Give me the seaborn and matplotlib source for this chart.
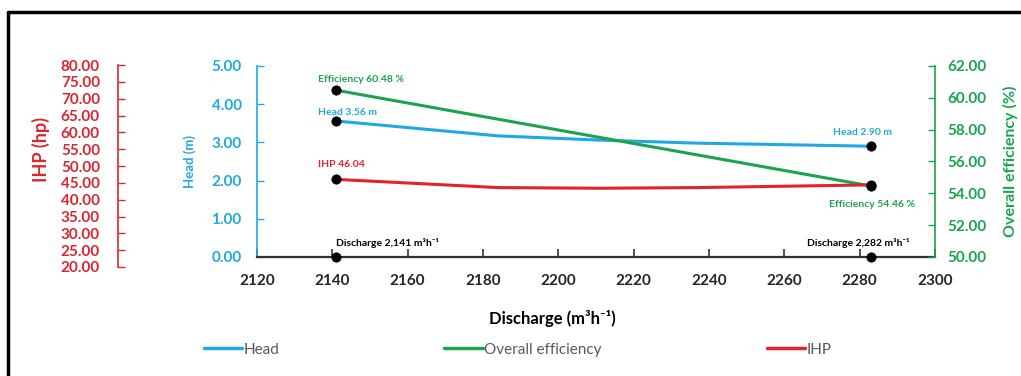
import numpy as np
import pandas as pd
import matplotlib
matplotlib.use('Agg')
import matplotlib.pyplot as plt
import seaborn as sns
from matplotlib.lines import Line2D

# discharge of the two measured points (m3/h)
discharge_pts = [2141, 2283]

# head curve (m)
head_x = [2141, 2184, 2211, 2237, 2283]
head_y = [3.56, 3.17, 3.06, 2.98, 2.90]

# IHP curve (hp)
ihp_x = [2141, 2184, 2211, 2237, 2283]
ihp_y = [46.04, 43.6, 43.4, 43.6, 44.4]

# overall efficiency (%)
eff_x = [2141, 2283]
eff_y = [60.48, 54.46]

x_ticks = list(range(2120, 2301, 20))
head_ticks = [0, 1, 2, 3, 4, 5]
eff_ticks = [50, 52, 54, 56, 58, 60, 62]
ihp_ticks = list(range(20, 81, 5))

BLUE = '#1FA9E1'
GREEN = '#1BA34E'
RED = '#E3232B'
AX_RED = '#D9262E'

sns.set_style('white')
plt.rcParams['font.family'] = ['Lato', 'DejaVu Sans']

fig = plt.figure(figsize=(10.21, 3.76), dpi=100)
ax = fig.add_axes([0.2517, 0.3165, 0.664, 0.508])
ax_eff = ax.twinx()
ax_ihp = fig.add_axes([0.2517, 0.2899, 0.664, 0.537], sharex=ax)
ax_ihp.patch.set_visible(False)

# lines
sns.lineplot(x=head_x, y=head_y, ax=ax, color=BLUE, linewidth=2.2)
sns.lineplot(x=eff_x, y=eff_y, ax=ax_eff, color=GREEN, linewidth=2.2)
sns.lineplot(x=ihp_x, y=ihp_y, ax=ax_ihp, color=RED, linewidth=2.2)

# end markers
mk = dict(color='black', s=45, marker='o', edgecolor='black', zorder=5)
sns.scatterplot(x=[head_x[0], head_x[-1]], y=[head_y[0], head_y[-1]], ax=ax, **mk)
sns.scatterplot(x=discharge_pts, y=[0, 0], ax=ax, clip_on=False, **mk)
sns.scatterplot(x=eff_x, y=eff_y, ax=ax_eff, **mk)
sns.scatterplot(x=[ihp_x[0], ihp_x[-1]], y=[ihp_y[0], ihp_y[-1]], ax=ax_ihp, **mk)

# axes limits and ticks
ax.set_xlim(2120, 2300)
ax.set_ylim(0, 5)
ax_eff.set_ylim(50, 62)
ax_ihp.set_ylim(20, 80)
ax.set_xticks(x_ticks)
ax.set_yticks(head_ticks)
ax_eff.set_yticks(eff_ticks)
ax_ihp.set_yticks(ihp_ticks)
ax.set_yticklabels([f'{v:.2f}' for v in head_ticks])
ax_eff.set_yticklabels([f'{v:.2f}' for v in eff_ticks])
ax_ihp.set_yticklabels([f'{v:.2f}' for v in ihp_ticks])

# spines
for a in (ax, ax_eff, ax_ihp):
    for s in a.spines.values():
        s.set_visible(False)
ax.spines['left'].set_visible(True)
ax.spines['left'].set_color(BLUE)
ax.spines['left'].set_linewidth(1.2)
ax.spines['bottom'].set_visible(True)
ax.spines['bottom'].set_color('#333333')
ax.spines['bottom'].set_linewidth(1.6)
ax_eff.spines['right'].set_visible(True)
ax_eff.spines['right'].set_color(GREEN)
ax_eff.spines['right'].set_linewidth(1.2)
ax_ihp.spines['left'].set_visible(True)
ax_ihp.spines['left'].set_color(AX_RED)
ax_ihp.spines['left'].set_linewidth(1.2)
ax_ihp.spines['left'].set_position(('axes', -0.205))
ax_ihp.xaxis.set_visible(False)

ax.tick_params(axis='x', direction='in', length=6, width=1.2, color='#333333',
               labelsize=11, pad=12, bottom=True)
ax.tick_params(axis='y', direction='in', length=5, width=1, color=BLUE,
               labelcolor=BLUE, labelsize=11, pad=11, left=True)
ax_eff.tick_params(axis='y', direction='in', length=5, width=1, color=GREEN,
                   labelcolor=GREEN, labelsize=11, pad=9, right=True)
ax_ihp.tick_params(axis='y', direction='in', length=5, width=1, color=AX_RED,
                   labelcolor=AX_RED, labelsize=11, pad=13, left=True)
for lab in ax.get_xticklabels() + ax.get_yticklabels() + ax_eff.get_yticklabels() + ax_ihp.get_yticklabels():
    lab.set_fontweight('bold')

# axis labels
ax.set_xlabel('Discharge (m³h⁻¹)', fontsize=12, fontweight='bold', color='black')
ax.xaxis.set_label_coords(0.435, -0.28)
ax.set_ylabel('Head (m)', fontsize=9.5, fontweight='bold', color=BLUE)
ax.yaxis.set_label_coords(-0.09, 0.5)
ax_eff.set_ylabel('Overall efficiency (%)', fontsize=11.5, fontweight='bold', color=GREEN)
ax_eff.yaxis.set_label_coords(1.1, 0.5)
ax_ihp.set_ylabel('IHP (hp)', fontsize=13, fontweight='bold', color=AX_RED)
ax_ihp.yaxis.set_label_coords(-0.305, 0.58)

# point annotations
ann = dict(textcoords='offset points', fontsize=7.5, fontweight='bold')
ax_eff.annotate('Efficiency 60.48 %', (eff_x[0], eff_y[0]), xytext=(-13, 6), color=GREEN, ha='left', **ann)
ax.annotate('Head 3.56 m', (head_x[0], head_y[0]), xytext=(-13, 4), color=BLUE, ha='left', **ann)
ax_ihp.annotate('IHP 46.04', (ihp_x[0], ihp_y[0]), xytext=(-13, 9), color=RED, ha='left', **ann)
ax.annotate('Head 2.90 m', (head_x[-1], head_y[-1]), xytext=(15, 8), color=BLUE, ha='right', **ann)
ax_eff.annotate('Efficiency 54.46 %', (eff_x[-1], eff_y[-1]), xytext=(32, -15), color=GREEN, ha='right', **ann)
ax.annotate('Discharge 2,141 m³h⁻¹', (discharge_pts[0], 0), xytext=(0, 8), color='black', ha='left', **ann)
ax.annotate('Discharge 2,282 m³h⁻¹', (discharge_pts[1], 0), xytext=(28, 8), color='black', ha='right', **ann)

# legend
handles = [Line2D([], [], color=BLUE, lw=2.5),
           Line2D([], [], color=GREEN, lw=2.5),
           Line2D([], [], color=RED, lw=2.5)]
leg = fig.legend(handles, ['Head', 'Overall efficiency', 'IHP'], loc='center',
                 bbox_to_anchor=(0.507, 0.07), ncol=3, frameon=False, fontsize=11,
                 handlelength=2.5, handletextpad=0.1, columnspacing=10.8)
for t in leg.get_texts():
    t.set_color('#595959')

# frame lines (top and left)
fig.add_artist(Line2D([8 / 1021, 1.0], [1 - 12 / 376, 1 - 12 / 376], color='black', lw=2.5,
                      transform=fig.transFigure))
fig.add_artist(Line2D([8 / 1021, 8 / 1021], [0, 1 - 12 / 376], color='black', lw=2.5,
                      transform=fig.transFigure))

fig.savefig('out.png', dpi=100)
